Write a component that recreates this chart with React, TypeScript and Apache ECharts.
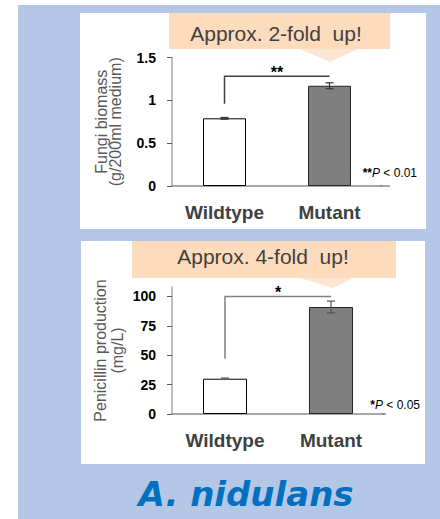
import React, { useEffect, useRef } from "react";
import * as echarts from "echarts";

const categories = ["Wildtype", "Mutant"];
const biomass = [0.79, 1.17];
const biomassErr = [0.01, 0.035];
const penicillin = [30, 91];
const penicillinErr = [0.6, 5];
const biomassTicks = [0, 0.5, 1, 1.5];
const penicillinTicks = [0, 25, 50, 75, 100];
const biomassBracket = [0.96, 1.28];
const penicillinBracket = [47, 100];
const barColors = ["#ffffff", "#7f7f7f"];
const barBorders = ["#000000", "#262626"];

const SANS = "'Liberation Sans', Arial, sans-serif";

const errorRender = (color: string) => (params: any, api: any) => {
  const x = api.value(0);
  const v = api.value(1);
  const e = api.value(2);
  const hi = api.coord([x, v + e]);
  const lo = api.coord([x, v - e]);
  const half = 4;
  const st = { stroke: color, lineWidth: 1.2 };
  return {
    type: "group",
    children: [
      { type: "line", shape: { x1: hi[0], y1: hi[1], x2: lo[0], y2: lo[1] }, style: st },
      { type: "line", shape: { x1: hi[0] - half, y1: hi[1], x2: hi[0] + half, y2: hi[1] }, style: st },
      { type: "line", shape: { x1: lo[0] - half, y1: lo[1], x2: lo[0] + half, y2: lo[1] }, style: st },
    ],
  };
};

const bracketRender = (label: string, color: string) => (params: any, api: any) => {
  const a = api.coord([api.value(0), api.value(2)]);
  const top = api.coord([api.value(0), api.value(3)]);
  const b = api.coord([api.value(1), api.value(3)]);
  return {
    type: "group",
    children: [
      {
        type: "polyline",
        shape: { points: [a, top, b] },
        style: { stroke: color, lineWidth: 1.5, fill: null },
      },
      {
        type: "text",
        x: (top[0] + b[0]) / 2,
        y: top[1] - 3.5,
        style: {
          text: label,
          align: "center",
          verticalAlign: "middle",
          font: `bold 16px ${SANS}`,
          fill: "#000",
        },
      },
    ],
  };
};

const yAxisBase = (
  name: string,
  nameSize: number,
  lineHeight: number,
  gap: number,
  min: number,
  max: number,
  interval: number,
  ticks: number[]
) => ({
  type: "value",
  min,
  max,
  interval,
  name,
  nameLocation: "middle",
  nameRotate: 90,
  nameGap: gap,
  nameTextStyle: { fontFamily: SANS, fontSize: nameSize, lineHeight, color: "#595959" },
  axisLine: { show: true, lineStyle: { color: "#a6a6a6", width: 1.5 } },
  axisTick: { show: true, length: 5, lineStyle: { color: "#595959" }, customValues: ticks },
  axisLabel: {
    fontFamily: SANS,
    fontWeight: "bold",
    fontSize: 14,
    color: "#000",
    margin: 16,
    customValues: ticks,
  },
  splitLine: { show: false },
});

const xAxisBase = () => ({
  type: "category",
  data: categories,
  axisTick: { show: false },
  axisLine: { show: true, lineStyle: { color: "#8c8c8c", width: 1.5 } },
  axisLabel: { fontFamily: SANS, fontWeight: "bold", fontSize: 19, color: "#404040", margin: 17 },
});

const barData = (vals: number[]) =>
  vals.map((v, i) => ({
    value: v,
    itemStyle: { color: barColors[i], borderColor: barBorders[i], borderWidth: 1 },
  }));

export default function App() {
  const ref = useRef<HTMLDivElement>(null);
  useEffect(() => {
    if (!ref.current) return;
    const chart = echarts.init(ref.current, null, { renderer: "svg" });
    const pText = (stars: string, p: string, right: number, y: number) => ({
      type: "text",
      x: right,
      y,
      z: 5,
      style: {
        text: `{s|${stars}}{p|P}{t| < ${p}}`,
        align: "right",
        verticalAlign: "middle",
        rich: {
          s: { fontFamily: SANS, fontWeight: "bold", fontSize: 12, fill: "#000" },
          p: { fontFamily: SANS, fontStyle: "italic", fontSize: 12, fill: "#000" },
          t: { fontFamily: SANS, fontSize: 12, fill: "#000" },
        },
      },
    });
    const callout = (x: number, y: number, w: number, h: number, tri: number[][], text: string, tx: number, ty: number) => [
      { type: "rect", z: -5, shape: { x, y, width: w, height: h }, style: { fill: "#fddcbd" } },
      { type: "polygon", z: -5, shape: { points: tri }, style: { fill: "#fde5d5" } },
      {
        type: "text",
        z: -4,
        x: tx,
        y: ty,
        style: { text, align: "center", verticalAlign: "middle", font: `21px ${SANS}`, fill: "#404040" },
      },
    ];
    chart.setOption({
      animation: false,
      graphic: {
        elements: [
          { type: "rect", z: -10, shape: { x: 18, y: 5, width: 422, height: 514 }, style: { fill: "#b4c7e7" } },
          { type: "rect", z: -9, shape: { x: 80, y: 13, width: 346, height: 216 }, style: { fill: "#ffffff" } },
          { type: "rect", z: -9, shape: { x: 81, y: 241, width: 344, height: 223 }, style: { fill: "#ffffff" } },
          { type: "line", z: -3, shape: { x1: 380, y1: 186, x2: 390, y2: 186 }, style: { stroke: "#8c8c8c", lineWidth: 1.5 } },
          { type: "line", z: -3, shape: { x1: 382, y1: 414, x2: 386, y2: 414 }, style: { stroke: "#8c8c8c", lineWidth: 1.5 } },
          ...callout(169, 13, 221, 36, [[300, 49], [358, 49], [330, 62]], "Approx. 2-fold  up!", 276, 33),
          ...callout(132, 241, 264, 37, [[300, 278], [353, 278], [333, 288]], "Approx. 4-fold  up!", 263, 256),
          pText("**", "0.01", 417, 173),
          pText("*", "0.05", 420, 405),
          {
            type: "text",
            x: 246,
            y: 494,
            style: {
              text: "A. nidulans",
              align: "center",
              verticalAlign: "middle",
              font: "italic bold 34px 'DejaVu Sans', sans-serif",
              fill: "#0070c0",
            },
          },
        ],
      },
      grid: [
        { left: 172, right: 58, top: 57.5, bottom: 333, containLabel: false },
        { left: 172, right: 56, top: 287, bottom: 105, containLabel: false },
      ],
      xAxis: [
        { ...xAxisBase(), gridIndex: 0 },
        { ...xAxisBase(), gridIndex: 1 },
      ],
      yAxis: [
        { ...yAxisBase("Fungi biomass\n(g/200ml medium)", 16, 14, 50, 0, 1.5, 0.5, biomassTicks), gridIndex: 0 },
        { ...yAxisBase("Penicillin production\n(mg/L)", 16, 17, 46, 0, 108, 25, penicillinTicks), gridIndex: 1 },
      ],
      series: [
        {
          type: "bar",
          xAxisIndex: 0,
          yAxisIndex: 0,
          barWidth: 43,
          data: barData(biomass),
        },
        {
          type: "custom",
          xAxisIndex: 0,
          yAxisIndex: 0,
          z: 5,
          renderItem: errorRender("#333333"),
          data: categories.map((c, i) => [i, biomass[i], biomassErr[i]]),
        },
        {
          type: "custom",
          xAxisIndex: 0,
          yAxisIndex: 0,
          z: 5,
          encode: { x: [0, 1], y: [2, 3] },
          renderItem: bracketRender("**", "#404040"),
          data: [[0, 1, biomassBracket[0], biomassBracket[1]]],
        },
        {
          type: "bar",
          xAxisIndex: 1,
          yAxisIndex: 1,
          barWidth: 44,
          data: barData(penicillin),
        },
        {
          type: "custom",
          xAxisIndex: 1,
          yAxisIndex: 1,
          z: 5,
          renderItem: errorRender("#555555"),
          data: categories.map((c, i) => [i, penicillin[i], penicillinErr[i]]),
        },
        {
          type: "custom",
          xAxisIndex: 1,
          yAxisIndex: 1,
          z: 5,
          encode: { x: [0, 1], y: [2, 3] },
          renderItem: bracketRender("*", "#808080"),
          data: [[0, 1, penicillinBracket[0], penicillinBracket[1]]],
        },
      ],
    });
    return () => chart.dispose();
  }, []);
  return <div ref={ref} style={{ position: "absolute", left: 0, top: 0, width: 440, height: 519 }} />;
}
